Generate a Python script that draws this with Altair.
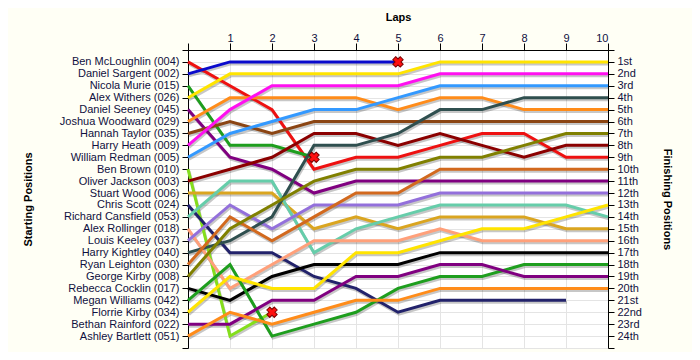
import json
import altair as alt
import pandas as pd

# ---- data -------------------------------------------------------------
names = [
    "Ben McLoughlin (004)", "Daniel Sargent (002)", "Nicola Murie (015)",
    "Alex Withers (026)", "Daniel Seeney (045)", "Joshua Woodward (029)",
    "Hannah Taylor (035)", "Harry Heath (009)", "William Redman (005)",
    "Ben Brown (010)", "Oliver Jackson (003)", "Stuart Wood (006)",
    "Chris Scott (024)", "Richard Cansfield (053)", "Alex Rollinger (018)",
    "Louis Keeley (037)", "Harry Kightley (040)", "Ryan Leighton (030)",
    "George Kirby (008)", "Rebecca Cocklin (017)", "Megan Williams (042)",
    "Florrie Kirby (034)", "Bethan Rainford (022)", "Ashley Bartlett (051)",
]
colors = [
    "#EE1111", "#0A0ACC", "#1E9E1E", "#FFE400", "#800080", "#FF8C1A",
    "#8B4513", "#FF10F0", "#3399FF", "#84DE1C", "#8B0000", "#DAA520",
    "#22226B", "#66CDAA", "#FFA07A", "#9370DB", "#2F4F4F", "#D2691E",
    "#808000", "#000000", "#1E9E1E", "#FFE400", "#800080", "#FF8C1A",
]

# position at laps 0..n (list ends when the driver stops)
p_004 = [1, 3, 5, 10, 9, 9, 8, 7, 7, 9, 9]
p_002 = [2, 1, 1, 1, 1, 1]
p_015 = [3, 8, 8, 9]
p_026 = [4, 2, 2, 2, 2, 2, 1, 1, 1, 1, 1]
p_045 = [5, 9, 10, 12, 11, 11, 11, 11, 11, 11, 11]
p_029 = [6, 4, 4, 4, 4, 5, 4, 4, 5, 5, 5]
p_035 = [7, 6, 7, 6, 6, 6, 6, 6, 6, 6, 6]
p_009 = [8, 5, 3, 3, 3, 3, 2, 2, 2, 2, 2]
p_005 = [9, 7, 6, 5, 5, 4, 3, 3, 3, 3, 3]
p_010 = [10, 24, 22]
p_003 = [11, 10, 9, 7, 7, 8, 7, 8, 9, 8, 8]
p_006 = [12, 12, 12, 15, 14, 15, 14, 14, 14, 15, 15]
p_024 = [13, 17, 17, 19, 20, 22, 21, 21, 21, 21]
p_053 = [14, 11, 11, 17, 15, 14, 13, 13, 13, 13, 14]
p_018 = [15, 20, 18, 16, 16, 16, 15, 16, 16, 16, 16]
p_037 = [16, 13, 15, 13, 13, 13, 12, 12, 12, 12, 12]
p_040 = [17, 16, 14, 8, 8, 7, 5, 5, 4, 4, 4]
p_030 = [18, 14, 16, 14, 12, 12, 10, 10, 10, 10, 10]
p_008 = [19, 15, 13, 11, 10, 10, 9, 9, 8, 7, 7]
p_017 = [20, 21, 19, 18, 18, 18, 17, 17, 17, 17, 17]
p_042 = [21, 18, 24, 23, 22, 20, 19, 19, 18, 18, 18]
p_034 = [22, 19, 20, 20, 17, 17, 16, 15, 15, 14, 13]
p_022 = [23, 23, 21, 21, 19, 19, 18, 18, 19, 19, 19]
p_051 = [24, 22, 23, 22, 21, 21, 20, 20, 20, 20, 20]

positions = [p_004, p_002, p_015, p_026, p_045, p_029, p_035, p_009, p_005,
             p_010, p_003, p_006, p_024, p_053, p_018, p_037, p_040, p_030,
             p_008, p_017, p_042, p_034, p_022, p_051]

retired = ["Daniel Sargent (002)", "Nicola Murie (015)", "Ben Brown (010)"]

laps = list(range(0, 11))
finish_labels = [
    "1st", "2nd", "3rd", "4th", "5th", "6th", "7th", "8th", "9th", "10th",
    "11th", "12th", "13th", "14th", "15th", "16th", "17th", "18th", "19th",
    "20th", "21st", "22nd", "23rd", "24th",
]

# ---- tables -----------------------------------------------------------
rows = []
for i, (n, pos) in enumerate(zip(names, positions)):
    for lap, p in enumerate(pos):
        rows.append({"driver": n, "lap": lap, "pos": p, "order": i})
df = pd.DataFrame(rows)

ret_rows = []
for n in retired:
    pos = positions[names.index(n)]
    ret_rows.append({"driver": n, "lap": len(pos) - 1, "pos": pos[-1]})
ret_df = pd.DataFrame(ret_rows)

left_expr = json.dumps([""] + names + [""]) + "[datum.value]"
right_expr = json.dumps([""] + finish_labels + [""]) + "[datum.value]"

FONT = "Liberation Sans"
TXT = "#101040"

xscale = alt.Scale(domain=[0, 10], nice=False, zero=False)
yscale = alt.Scale(domain=[0, 25], reverse=True, nice=False, zero=False)

x_enc = alt.X(
    "lap:Q", scale=xscale,
    axis=alt.Axis(
        orient="top", values=laps, labelExpr="datum.value == 0 ? '' : datum.value",
        title="Laps", titleFontWeight="bold", titleFontSize=11, titleFont=FONT,
        titleX=210, titleY=-33, titleBaseline="middle", titleColor="#000000",
        tickSize=7, labelPadding=0, labelFontSize=11, labelFont=FONT,
        labelColor=TXT, grid=True, gridColor="#E4E4E4",
        domainColor="#000000", tickColor="#000000",
    ),
)

y_left = alt.Y(
    "pos:Q", scale=yscale,
    axis=alt.Axis(
        orient="left", values=list(range(0, 26)), labelExpr=left_expr,
        title="Starting Positions", titleFontWeight="bold", titleFontSize=11,
        titleFont=FONT, titleX=-160, titleY=149, titleBaseline="middle",
        titleAlign="center", titleAngle=-90, titleColor="#000000",
        tickSize=6, labelPadding=3, labelFontSize=11, labelFont=FONT,
        labelColor=TXT, grid=True, gridColor="#E4E4E4",
        domainColor="#000000", tickColor="#000000", labelOverlap=False,
    ),
)

y_right = alt.Y(
    "pos:Q", scale=yscale,
    axis=alt.Axis(
        orient="right", values=list(range(0, 26)), labelExpr=right_expr,
        title="Finishing Positions", titleFontWeight="bold", titleFontSize=11,
        titleFont=FONT, titleX=58, titleY=149, titleBaseline="middle",
        titleAlign="center", titleAngle=90, titleColor="#000000",
        tickSize=6, labelPadding=3, labelFontSize=11, labelFont=FONT,
        labelColor=TXT, grid=False,
        domainColor="#000000", tickColor="#000000", labelOverlap=False,
    ),
)

shadow = alt.Chart(df).mark_line(
    color="#000000", opacity=0.22, strokeWidth=3, yOffset=2, xOffset=1
).encode(x=x_enc, y=y_left, detail="driver:N", order="lap:Q")

lines = alt.Chart(df).mark_line(strokeWidth=3).encode(
    x=alt.X("lap:Q", scale=xscale),
    y=alt.Y("pos:Q", scale=yscale, axis=None),
    color=alt.Color("driver:N", scale=alt.Scale(domain=names, range=colors), legend=None),
    detail="driver:N",
    order="lap:Q",
)

marks = alt.Chart(ret_df).mark_point(
    shape="cross", angle=45, size=110, filled=True, fill="#FF1010",
    stroke="#7A0000", strokeWidth=1, opacity=1,
).encode(x=alt.X("lap:Q", scale=xscale), y=y_right)

chart = alt.layer(shadow, lines, marks).resolve_axis(y="independent").properties(
    width=420, height=298,
    autosize=alt.AutoSizeParams(type="none"),
    padding={"left": 180, "top": 42, "right": 84, "bottom": 4},
    background="#FFFFF5",
).configure_view(fill="#FFFFFF", stroke=None)

chart.save("out.html", embed_options={"renderer": "svg", "actions": False})
